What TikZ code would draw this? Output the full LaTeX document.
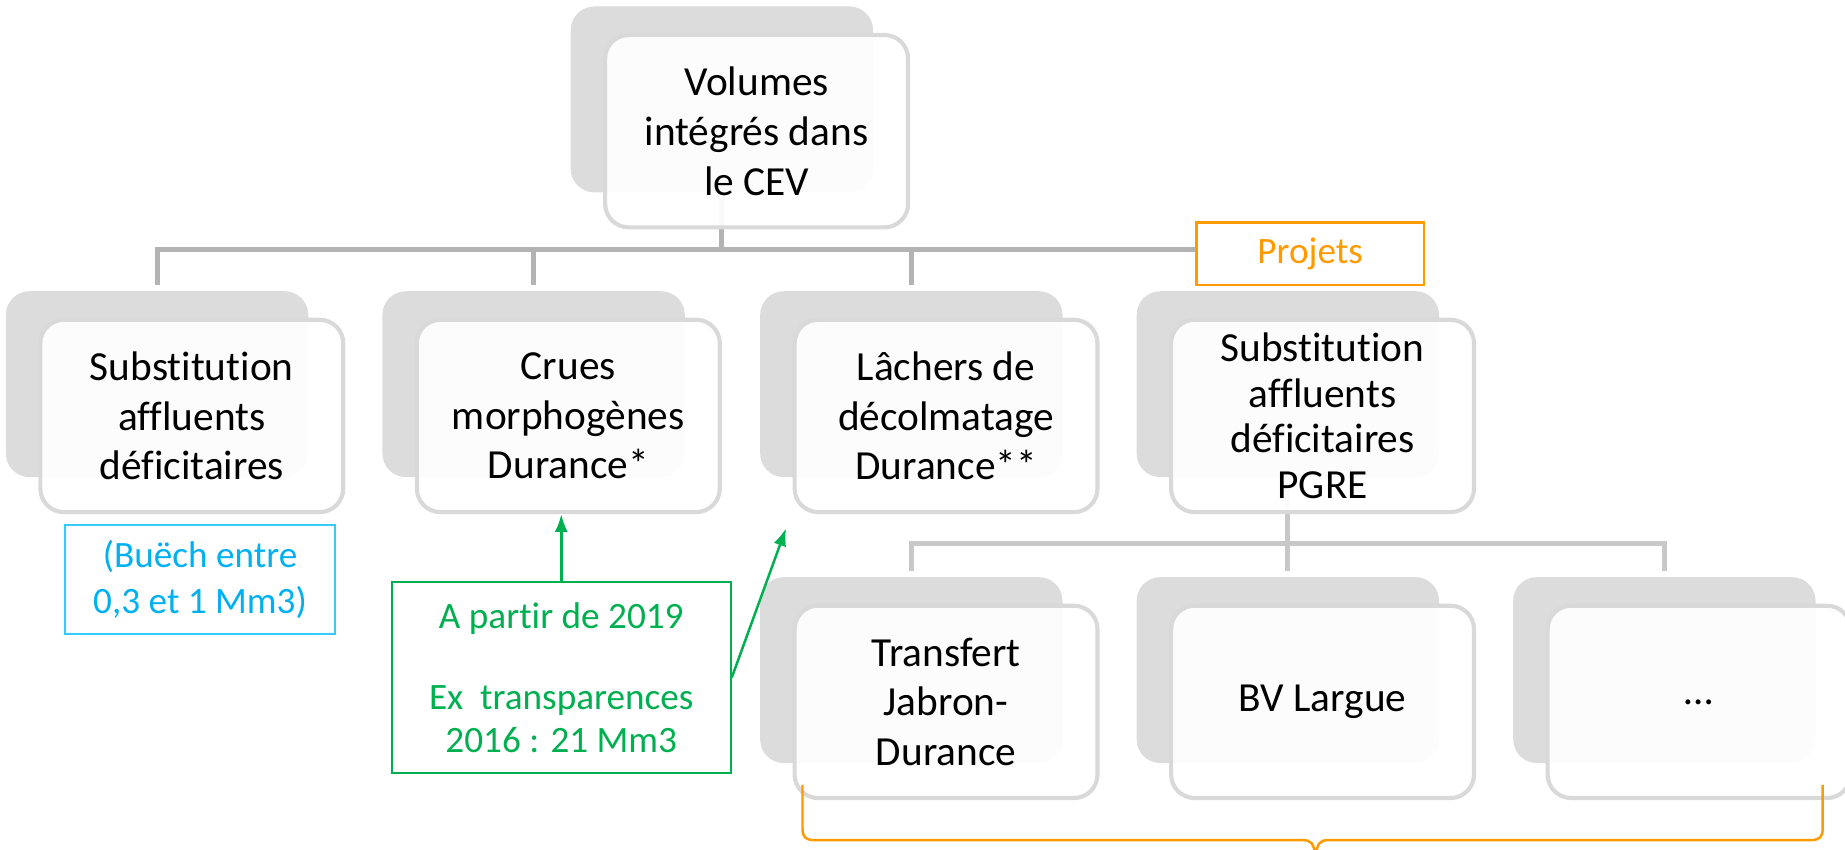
\documentclass[tikz,border=0pt]{standalone}
\usepackage{fontspec}
\setmainfont{Carlito}[Ligatures=NoCommon]
\usetikzlibrary{positioning, arrows.meta}
\definecolor{fondgris}{HTML}{DCDCDC}
\definecolor{bordgris}{HTML}{D9D9D9}
\definecolor{liengris}{HTML}{B3B3B3}
\definecolor{liengrisclair}{HTML}{C8C8C8}
\definecolor{vertnote}{HTML}{00B050}
\definecolor{bleunote}{HTML}{00B0F0}
\definecolor{bleubord}{HTML}{33CCFF}
\definecolor{orangenote}{HTML}{FF9A00}

\begin{document}
\begin{tikzpicture}[x=0.02cm, y=-0.02cm,
	arriere/.style={fill=fondgris, rounded corners=0.4cm, minimum width=5.14cm, minimum height=3.16cm, inner sep=0pt},
	avant/.style={draw=bordgris, line width=2pt, fill=white, fill opacity=0.93, text opacity=1, rounded corners=0.4cm, minimum width=5.15cm, minimum height=3.27cm, align=center, font=\fontsize{20}{24}\selectfont, on grid},
	lien/.style={draw=liengris, line width=2.4pt, shorten <=0.1cm, shorten >=0.1cm},
	lienclair/.style={lien, draw=liengrisclair},
	fleche/.style={-{Latex[length=0.3cm, width=0.22cm]}, draw=vertnote, line width=1.2pt}]
	\useasboundingbox (0,0) rectangle (1568,722);

	% fonds gris
	\node[arriere] (topB) at (613.5,84.5) {};
	\node[arriere] (subB) at (133.5,326.5) {};
	\node[arriere] (cruesB) at (453.5,326.5) {};
	\node[arriere] (lachB) at (774.5,326.5) {};
	\node[arriere] (pgreB) at (1094.5,326.5) {};
	\node[arriere] (transB) at (774.5,569.5) {};
	\node[arriere] (bvB) at (1094.5,569.5) {};
	\node[arriere] (autreB) at (1414.5,569.5) {};

	% liens
	\coordinate (bar1) at (613.5,212);
	\coordinate (bar2) at (1094.5,462);
	\draw[lien] (topB.south) -- (topB.south |- bar1) -| (subB.north);
	\draw[lien] (topB.south) -- (topB.south |- bar1) -| (cruesB.north);
	\draw[lien] (topB.south) -- (topB.south |- bar1) -| (lachB.north);
	\draw[lien] (topB.south) -- (topB.south |- bar1) -| (pgreB.north);
	\draw[lienclair] (pgreB.south) -- (bar2) -| (transB.north);
	\draw[lienclair] (pgreB.south) -- (bar2) -| (bvB.north);
	\draw[lienclair] (pgreB.south) -- (bar2) -| (autreB.north);

	% cadres blancs
	\node[avant, below right=0.54cm and 0.59cm of topB] (topF) {Volumes\\intégrés dans\\le CEV};
	\node[avant, below right=0.54cm and 0.59cm of subB] (subF) {Substitution\\affluents\\déficitaires};
	\node[avant, below right=0.54cm and 0.59cm of cruesB] (cruesF) {Crues\\morphogènes\\Durance*};
	\node[avant, below right=0.54cm and 0.59cm of lachB] (lachF) {Lâchers de\\décolmatage\\Durance**};
	\node[avant, below right=0.54cm and 0.59cm of pgreB, font=\fontsize{20}{22}\selectfont] (pgreF) {Substitution\\affluents\\déficitaires\\PGRE};
	\node[avant, below right=0.54cm and 0.59cm of transB] (transF) {Transfert\\Jabron-\\Durance};
	\node[avant, below right=0.54cm and 0.59cm of bvB] (bvF) {BV Largue};
	\node[avant, below right=0.54cm and 0.59cm of autreB] (autreF) {…};

	% Projets
	\node[draw=orangenote, fill=white, line width=1.2pt, text=orangenote, minimum width=3.86cm, minimum height=1.06cm, font=\fontsize{18}{22}\selectfont] (projets) at (1113.5,215.5) {Projets};
	\draw[orangenote, line width=1.2pt] (682,667) -- (682,704) .. controls (682,712) and (685,714) .. (693,714) -- (1107,714) .. controls (1114,714) and (1117,716) .. (1118,730)
		.. controls (1119,716) and (1122,714) .. (1129,714) -- (1538,714) .. controls (1546,714) and (1549,712) .. (1549,704) -- (1549,667);

	% notes
	\node[draw=bleubord, line width=1pt, text=bleunote, align=center, minimum width=4.6cm, minimum height=1.86cm, font=\fontsize{18}{22.5}\selectfont] (buech) at (170,492.5) {(Buëch entre\\0,3 et 1 Mm3)};
	\node[draw=vertnote, line width=1pt, text=vertnote, align=center, minimum width=5.76cm, minimum height=3.24cm, font=\fontsize{18}{21}\selectfont] (note) at (477,576) {A partir de 2019\\[18pt]Ex\ \ transparences\\2016 : 21 Mm3};
	\coordinate (pointeL) at (668,449);
	\draw[fleche] (note.north) -- (note.north |- cruesF.south);
	\draw[fleche] (note.east) -- (pointeL);
\end{tikzpicture}
\end{document}
